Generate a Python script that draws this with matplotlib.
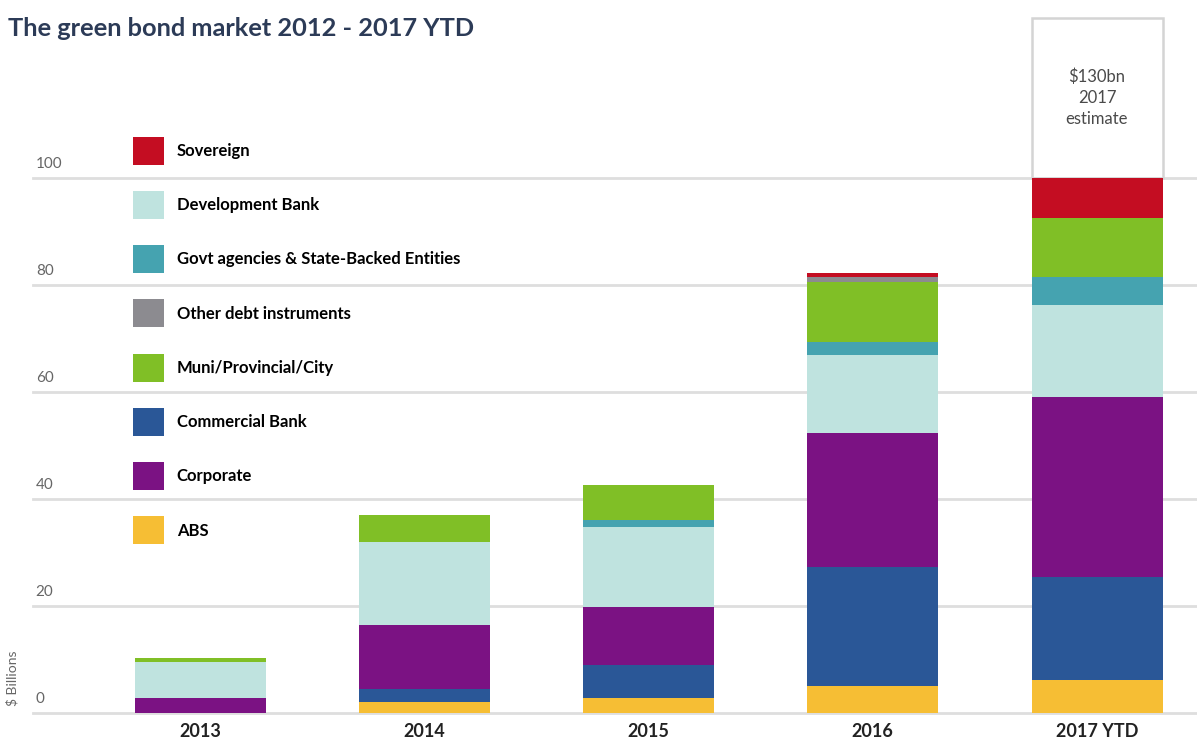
import numpy as np
import matplotlib
matplotlib.use("Agg")
import matplotlib.pyplot as plt
from matplotlib.patches import Patch

plt.rcParams["font.family"] = ["Lato", "DejaVu Sans"]

# ── data ($ billions) ───────────────────────────────────────────────────
years = ["2013", "2014", "2015", "2016", "2017 YTD"]

abs_ = [0.0, 2.1, 2.8, 5.0, 6.2]
commercial_bank = [0.0, 2.4, 6.2, 22.3, 19.2]
corporate = [2.8, 11.9, 10.8, 25.0, 33.7]
development_bank = [6.7, 15.6, 15.0, 14.6, 17.2]
govt_agencies = [0.0, 0.0, 1.3, 2.4, 5.2]
muni = [0.7, 5.0, 6.5, 11.2, 11.0]
other_debt = [0.0, 0.0, 0.0, 1.0, 0.0]
sovereign = [0.0, 0.0, 0.0, 0.7, 7.5]

estimate_2017 = 130
y_ticks = [0, 20, 40, 60, 80, 100]

# stacking order, bottom to top
series = [
    ("ABS", abs_, "#f6be34"),
    ("Commercial Bank", commercial_bank, "#2a5797"),
    ("Corporate", corporate, "#7b1283"),
    ("Development Bank", development_bank, "#bfe3df"),
    ("Govt agencies & State-Backed Entities", govt_agencies, "#45a3b0"),
    ("Muni/Provincial/City", muni, "#80bf26"),
    ("Other debt instruments", other_debt, "#8c8b90"),
    ("Sovereign", sovereign, "#c40d22"),
]
# legend order as printed in the chart
legend_order = ["Sovereign", "Development Bank",
                "Govt agencies & State-Backed Entities",
                "Other debt instruments", "Muni/Provincial/City",
                "Commercial Bank", "Corporate", "ABS"]

W, H = 1197, 742
fig = plt.figure(figsize=(W / 100, H / 100), dpi=100)
ax = fig.add_axes([33 / W, 29 / H, 1 - 33 / W, 713 / H])

x = np.arange(len(years))
px_per_cat = 224.25
ax.set_xlim(-167 / px_per_cat, (W - 200) / px_per_cat)
ax.set_ylim(0, 713 / 5.35)
bar_w = 131 / px_per_cat

# grid lines behind bars
for v in y_ticks:
    ax.axhline(v, xmin=0, xmax=1, color="#dedede", lw=2, zorder=0,
               clip_on=False)

bottom = np.zeros(len(years))
for name, vals, color in series:
    vals = np.array(vals)
    ax.bar(x, vals, bar_w, bottom=bottom, color=color, zorder=2,
           linewidth=0)
    bottom += vals

# 2017 estimate box on top of the YTD bar
last = len(years) - 1
ax.bar(x[last], estimate_2017 - bottom[last], bar_w, bottom=bottom[last],
       facecolor="none", edgecolor="#d4d4d4", linewidth=1.8, zorder=1)
ax.text(x[last], (estimate_2017 + bottom[last]) / 2,
        f"${estimate_2017}bn\n2017\nestimate", ha="center", va="center",
        fontsize=12, color="#4a4a4a", linespacing=1.35)

# y labels sit a little above their grid lines
for v in y_ticks:
    ax.annotate(str(v), xy=(0, v), xycoords=("axes fraction", "data"),
                xytext=(2, 5), textcoords="offset points",
                ha="left", va="bottom", fontsize=11, color="#666666")
ax.set_yticks([])

ax.set_xticks(x)
ax.set_xticklabels(years, fontsize=13, fontweight="bold", color="#222222")
ax.tick_params(axis="x", length=0, pad=7)
for s in ax.spines.values():
    s.set_visible(False)

fig.text(12 / W, 1 - 678 / H, "$ Billions", rotation=90, ha="center",
         va="center", fontsize=10, color="#666666")

fig.text(8 / W, 1 - 28 / H, "The green bond market 2012 - 2017 YTD",
         ha="left", va="center", fontsize=18.3, fontweight="bold",
         color="#2c3b57")

colors = {name: c for name, _, c in series}
handles = [Patch(facecolor=colors[n], edgecolor="none", label=n)
           for n in legend_order]
ax.legend(handles=handles, loc="upper left",
          bbox_to_anchor=(126 / W, 1 - 130 / H), bbox_transform=fig.transFigure,
          frameon=False, prop={"size": 12, "weight": "bold"},
          handlelength=1.85, handleheight=2.2, handletextpad=0.8,
          labelspacing=1.58, borderaxespad=0)

fig.savefig("out.png", dpi=100)
